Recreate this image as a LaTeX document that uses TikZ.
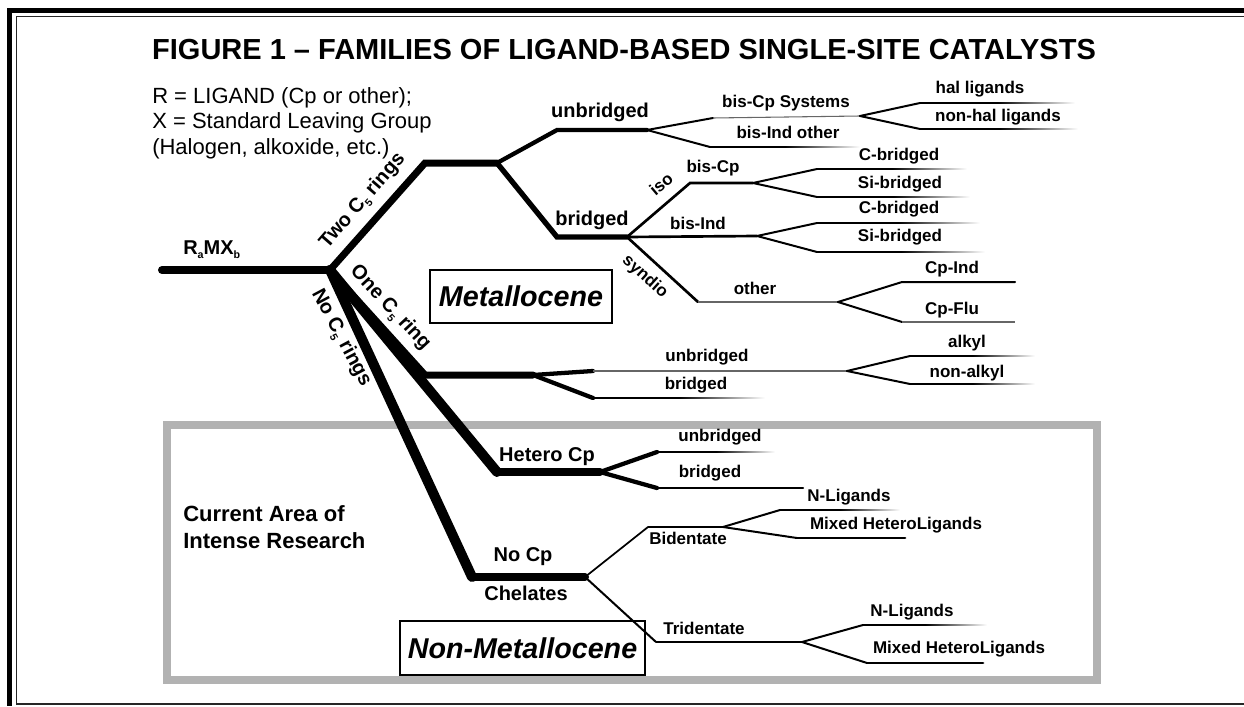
\documentclass[tikz,border=0pt]{standalone}
\usepackage{fontspec}
\setmainfont{Liberation Sans}
\usetikzlibrary{calc}
% small lowered index, e.g. C_5
\newcommand\sbs[1]{\raisebox{-0.45ex}{\fontsize{8}{8}\selectfont\bfseries #1}}
% horizontal branch end that fades out to the right
\newcommand\fadeseg[3]{\shade[left color=black,right color=white,middle color=black] ($(#1)+(0,-#3/2)$) rectangle ($(#2)+(0,#3/2)$);}
\begin{document}
\begin{tikzpicture}[x=0.75pt,y=-0.75pt,
  trunk/.style={line width=6pt, line cap=round, line join=round},
  limb/.style={line width=5.25pt, line cap=round, line join=miter},
  bough/.style={line width=3.2pt, line cap=round, line join=miter},
  twig/.style={line width=1.5pt, line cap=round},
  faint/.style={line width=0.8pt, black!60},
  lab/.style={font=\fontsize{12.75}{14}\selectfont\bfseries, inner sep=0pt},
  labm/.style={font=\fontsize{15}{17}\selectfont\bfseries, inner sep=0pt},
  tag/.style={draw, line width=1.5pt, inner sep=0pt, font=\fontsize{21.5}{24}\selectfont\bfseries\itshape},
  legend/.style={font=\fontsize{16.5}{18}\selectfont, inner sep=0pt, anchor=base west},
]
\useasboundingbox (0,0) rectangle (1244,706);

% page frame
\draw[line width=3.75pt] (1244,10.5) -- (9.5,10.5) -- (9.5,706);
\draw[line width=0.8pt, black!85] (1244,16.5) -- (16.5,16.5) -- (16.5,704) -- (1244,704);

% research area
\draw[line width=6pt, black!30] (167,425) rectangle (1097,680);

% branch points
\coordinate (root) at (162,270);
\coordinate (A) at (330,270);
\coordinate (twoK) at (425,163);  \coordinate (twoE) at (497,163);
\coordinate (ubK) at (557,130);   \coordinate (ubE) at (647,130);
\coordinate (brK) at (557,237);   \coordinate (brE) at (627,237);
\coordinate (bcsK) at (713,118);  \coordinate (bcsE) at (860,116);
\coordinate (halK) at (920,103);  \coordinate (halE) at (1075,103);
\coordinate (nhalK) at (920,129); \coordinate (nhalE) at (1078,129);
\coordinate (bioK) at (710,147);  \coordinate (bioE) at (860,147);
\coordinate (isoK) at (690,183);  \coordinate (bcE) at (753,183);
\coordinate (cbAK) at (817,169);  \coordinate (cbAE) at (967,169);
\coordinate (sbAK) at (817,197);  \coordinate (sbAE) at (970,197);
\coordinate (biE) at (757,236);
\coordinate (cbBK) at (817,223);  \coordinate (cbBE) at (980,223);
\coordinate (sbBK) at (817,252);  \coordinate (sbBE) at (985,252);
\coordinate (synK) at (698,302);  \coordinate (otE) at (838,302);
\coordinate (ciK) at (902,282);   \coordinate (ciE) at (1015,282);
\coordinate (cfK) at (902,322);   \coordinate (cfE) at (1015,322);
\coordinate (oneK) at (425,375);  \coordinate (oneE) at (533,375);
\coordinate (oubK) at (593,371);  \coordinate (oubE) at (847,371);
\coordinate (obrK) at (593,398);  \coordinate (obrE) at (765,398);
\coordinate (alK) at (910,356);   \coordinate (alE) at (1035,356);
\coordinate (nalK) at (910,384);  \coordinate (nalE) at (1035,384);
\coordinate (hetK) at (497,472);  \coordinate (hetE) at (600,472);
\coordinate (hubK) at (657,452);  \coordinate (hubE) at (775,452);
\coordinate (hbrK) at (657,488);  \coordinate (hbrE) at (803,488);
\coordinate (ncpK) at (472,577);  \coordinate (ncpE) at (585,577);
\coordinate (bidK) at (648,527);  \coordinate (bidE) at (723,527);
\coordinate (bnK) at (780,510);   \coordinate (bnE) at (900,510);
\coordinate (bmK) at (797,538);   \coordinate (bmE) at (905,538);
\coordinate (triK) at (656,642);  \coordinate (triE) at (802,642);
\coordinate (tnK) at (863,625);   \coordinate (tnE) at (987,625);
\coordinate (tmK) at (867,663);   \coordinate (tmE) at (983,663);

% trunk and main branches
\draw[trunk] (root) -- (A);
\draw[limb] (A) -- (twoK) -- (twoE);
\draw[limb] (A) -- (oneK) -- (oneE);
\draw[trunk, line width=7.5pt] (A) -- (hetK);
\draw[limb, line width=6pt] (hetK) -- (hetE);
\draw[trunk, line width=7.5pt] (A) -- (ncpK);
\draw[limb, line width=6pt] (ncpK) -- (ncpE);

% two C5 rings
\draw[bough] (twoE) -- (ubK) -- (ubE);
\draw[bough, line width=4pt] (twoE) -- (brK) -- (brE);
\draw[twig] (ubE) -- (bcsK); \draw[faint] (bcsK) -- (bcsE);
\draw[twig] (ubE) -- (bioK); \fadeseg{bioK}{bioE}{1.5}
\draw[twig] (bcsE) -- (halK); \fadeseg{halK}{halE}{1.5}
\draw[twig] (bcsE) -- (nhalK); \fadeseg{nhalK}{nhalE}{1.8}
\draw[twig, line width=2pt] (brE) -- (isoK) -- (bcE);
\draw[twig] (bcE) -- (cbAK); \fadeseg{cbAK}{cbAE}{1.5}
\draw[twig] (bcE) -- (sbAK); \fadeseg{sbAK}{sbAE}{1.2}
\draw[twig, line width=2pt] (brE) -- (biE);
\draw[twig] (biE) -- (cbBK); \fadeseg{cbBK}{cbBE}{1.2}
\draw[twig] (biE) -- (sbBK); \fadeseg{sbBK}{sbBE}{1.5}
\draw[twig, line width=2pt] (brE) -- (synK); \draw[faint] (synK) -- (otE);
\draw[twig] (otE) -- (ciK) -- (ciE);
\draw[twig] (otE) -- (cfK); \draw[faint] (cfK) -- (cfE);

% one C5 ring
\draw[bough] (oneE) -- (oubK); \draw[faint] (oubK) -- (oubE);
\draw[bough] (oneE) -- (obrK); \fadeseg{obrK}{obrE}{1.5}
\draw[twig] (oubE) -- (alK); \fadeseg{alK}{alE}{1.5}
\draw[twig] (oubE) -- (nalK); \fadeseg{nalK}{nalE}{1.5}

% hetero Cp
\draw[bough] (hetE) -- (hubK); \fadeseg{hubK}{hubE}{1.8}
\draw[bough] (hetE) -- (hbrK); \draw[twig] (hbrK) -- (hbrE);

% no Cp chelates
\draw[twig, line width=1.3pt] (ncpE) -- (bidK) -- (bidE);
\draw[twig] (bidE) -- (bnK); \fadeseg{bnK}{bnE}{1.5}
\draw[twig] (bidE) -- (bmK); \draw[twig, line width=2.2pt] (bmK) -- (bmE);
\draw[twig] (ncpE) -- (triK); \draw[twig, line width=1pt] (triK) -- (triE);
\draw[twig] (triE) -- (tnK); \fadeseg{tnK}{tnE}{1.5}
\draw[twig] (triE) -- (tmK); \draw[twig, line width=2pt] (tmK) -- (tmE);

% title and legend
\node[font=\fontsize{21.75}{24}\selectfont\bfseries, inner sep=0pt] (title) at (624,50)
  {FIGURE 1 -- FAMILIES OF LIGAND-BASED SINGLE-SITE CATALYSTS};
\node[legend] (legR) at (152,104) {R = LIGAND (Cp or other);};
\node[legend] (legX) at (152,129) {X = Standard Leaving Group};
\node[legend] (legH) at (152,154) {(Halogen, alkoxide, etc.)};

% level labels
\node[labm, anchor=base west] (rmx) at (183,254) {R\sbs{a}MX\sbs{b}};
\node[labm, rotate=49] (twoL) at (363,201) {Two C\sbs{5} rings};
\node[labm, rotate=-47] (oneL) at (390,308) {One C\sbs{5} ring};
\node[labm, rotate=-62] (noL) at (341,338) {No C\sbs{5} rings};

\node[labm] (ubL) at (600,112) {unbridged};
\node[labm] (brL) at (592,220) {bridged};
\node[lab] (bcsL) at (786,103) {bis-Cp Systems};
\node[lab] (bioL) at (788,132) {bis-Ind other};
\node[lab] (halL) at (980,89) {hal ligands};
\node[lab] (nhalL) at (998,117) {non-hal ligands};
\node[lab, rotate=40] (isoL) at (661,184) {iso};
\node[lab] (bcL) at (713,168) {bis-Cp};
\node[lab] (cbAL) at (899,156) {C-bridged};
\node[lab] (sbAL) at (900,184) {Si-bridged};
\node[lab] (cbBL) at (899,209) {C-bridged};
\node[lab] (sbBL) at (900,237) {Si-bridged};
\node[lab] (biL) at (698,223) {bis-Ind};
\node[lab, rotate=-42] (synL) at (645,277) {syndio};
\node[lab] (otL) at (755,288) {other};
\node[lab] (ciL) at (952,269) {Cp-Ind};
\node[lab] (cfL) at (952,310) {Cp-Flu};

\node[lab] (oubL) at (707,357) {unbridged};
\node[lab] (obrL) at (696,385) {bridged};
\node[lab] (alL) at (967,343) {alkyl};
\node[lab] (nalL) at (967,373) {non-alkyl};

\node[labm] (hetL) at (547,457) {Hetero Cp};
\node[lab] (hubL) at (720,437) {unbridged};
\node[lab] (hbrL) at (710,473) {bridged};
\node[labm] (ncpL) at (523,557) {No Cp};
\node[labm] (chL) at (526,593) {Chelates};
\node[lab] (bidL) at (688,538) {Bidentate};
\node[lab] (bnL) at (849,497) {N-Ligands};
\node[lab] (bmL) at (896,525) {Mixed HeteroLigands};
\node[lab] (triL) at (704,628) {Tridentate};
\node[lab] (tnL) at (912,612) {N-Ligands};
\node[lab] (tmL) at (959,649) {Mixed HeteroLigands};

% boxed family names
\node[tag, minimum width=136.5pt, minimum height=39.75pt] (metal) at (521,296.5) {Metallocene};
\node[tag, minimum width=183.75pt, minimum height=40.5pt] (nonmetal) at (522.5,648) {Non-Metallocene};

\node[font=\fontsize{16.5}{20.25}\selectfont\bfseries, inner sep=0pt, align=left, anchor=west] (area) at (183,527)
  {Current Area of\\Intense Research};
\end{tikzpicture}
\end{document}
